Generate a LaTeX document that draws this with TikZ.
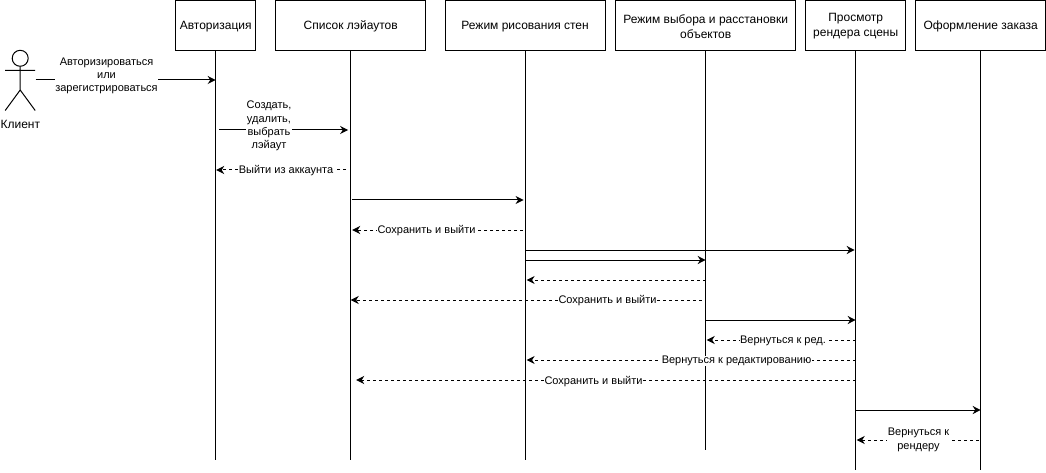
\documentclass[tikz,border=0pt]{standalone}
\usepackage{fontspec}
\setmainfont{Liberation Sans}
\usetikzlibrary{arrows.meta}
\tikzset{
  x=1pt,y=-1pt,
  lifebox/.style={draw=black,line width=1pt,fill=white,minimum height=50pt,inner sep=0pt,anchor=north west},
  boxtext/.style={inner sep=0pt,align=center,yshift=-0.8pt,font=\fontsize{12}{15}\selectfont},
  lifeline/.style={line width=1pt,black},
  msg/.style={line width=1pt,black,-{Stealth[length=8pt,width=8pt,inset=2.5pt]}},
  ret/.style={msg,dash pattern=on 3pt off 3pt},
  lbl/.style={fill=white,inner sep=0.5pt,align=center,yshift=-1pt,font=\fontsize{11}{13.3}\selectfont},
  actorline/.style={line width=1pt,black}
}
\newcommand{\lifebx}[5]{%
  \node[lifebox,minimum width=#3pt,label={[boxtext]center:{#4}}] (#1) at (#2,0) {};
  \coordinate (#1end) at (#1.south |- 0,#5);
  \draw[lifeline] (#1.south) -- (#1end);
}
\begin{document}
\begin{tikzpicture}
\useasboundingbox (0,0) rectangle (1046,473);
\lifebx{auth}{175.2}{80}{Авторизация}{460}
\lifebx{list}{275.2}{150}{Список лэйаутов}{460}
\lifebx{wall}{444.6}{160}{Режим рисования стен}{460}
\lifebx{objs}{615.2}{180}{Режим выбора и расстановки\\объектов}{450}
\lifebx{rend}{805.2}{100}{Просмотр\\рендера сцены}{470}
\lifebx{shop}{915.2}{130}{Оформление заказа}{470}

% actor
\node[draw=black,line width=1pt,circle,minimum size=16pt,inner sep=0pt] (head) at (20.2,58.3) {};
\coordinate (hip) at (20.2,90);
\coordinate (armL) at (5.2,70.5);
\coordinate (armR) at (35.2,70.5);
\coordinate (footL) at (5.2,110.5);
\coordinate (footR) at (35.2,110.5);
\draw[actorline] (head.south) -- (hip) (armL) -- (armR) (footL) -- (hip) -- (footR);
\node[font=\fontsize{12}{15}\selectfont,inner sep=0pt] (client) at (20.3,124.2) {Клиент};
\coordinate (actorhand) at (35.5,80);

% named message end points on the lifelines
\newcommand{\msgline}[6]{% style, from lifeline, from offset, to lifeline, to offset, y
  \coordinate (a) at ([xshift=#3pt]#2.south |- 0,#6);
  \coordinate (b) at ([xshift=#5pt]#4.south |- 0,#6);
  \draw[#1] (a) -- (b);
}
\draw[msg] (actorhand) -- (auth.south |- 0,80);
\node[lbl] (m1) at (106.5,75) {Авторизироваться\\или\\зарегистрироваться};

\msgline{msg}{auth}{3.5}{list}{-2.5}{130}
\node[lbl] (m2) at (269,125) {Создать,\\удалить,\\выбрать\\лэйаут};

\msgline{ret}{list}{-4.5}{auth}{0.5}{170}
\node[lbl] (m3) at (286,170) {Выйти из аккаунта};

\msgline{msg}{list}{1.5}{wall}{-1.5}{200}

\msgline{ret}{wall}{-2}{list}{1.5}{230}
\node[lbl] (m5) at (426.5,230) {Сохранить и выйти};

\msgline{msg}{wall}{0.5}{rend}{-1}{250}
\msgline{msg}{wall}{0.5}{objs}{0}{260}
\msgline{ret}{objs}{0}{wall}{1.5}{280}

\msgline{ret}{objs}{-4}{list}{0}{300}
\node[lbl] (m9) at (607.5,300) {Сохранить и выйти};

\msgline{msg}{objs}{0}{rend}{0}{320}

\msgline{ret}{rend}{0}{objs}{1}{340}
\node[lbl] (m11) at (783,339.5) {Вернуться к ред.};

\msgline{ret}{rend}{0}{wall}{1.5}{360}
\node[lbl] (m12) at (736.5,360) {Вернуться к редактированию};

\msgline{ret}{rend}{0}{list}{5.5}{380}
\node[lbl] (m13) at (593.5,380.5) {Сохранить и выйти};

\msgline{msg}{rend}{0}{shop}{0}{410}

\msgline{ret}{shop}{-2}{rend}{1}{440}
\node[lbl] (m15) at (918.5,439) {Вернуться к\\рендеру};
\end{tikzpicture}
\end{document}
